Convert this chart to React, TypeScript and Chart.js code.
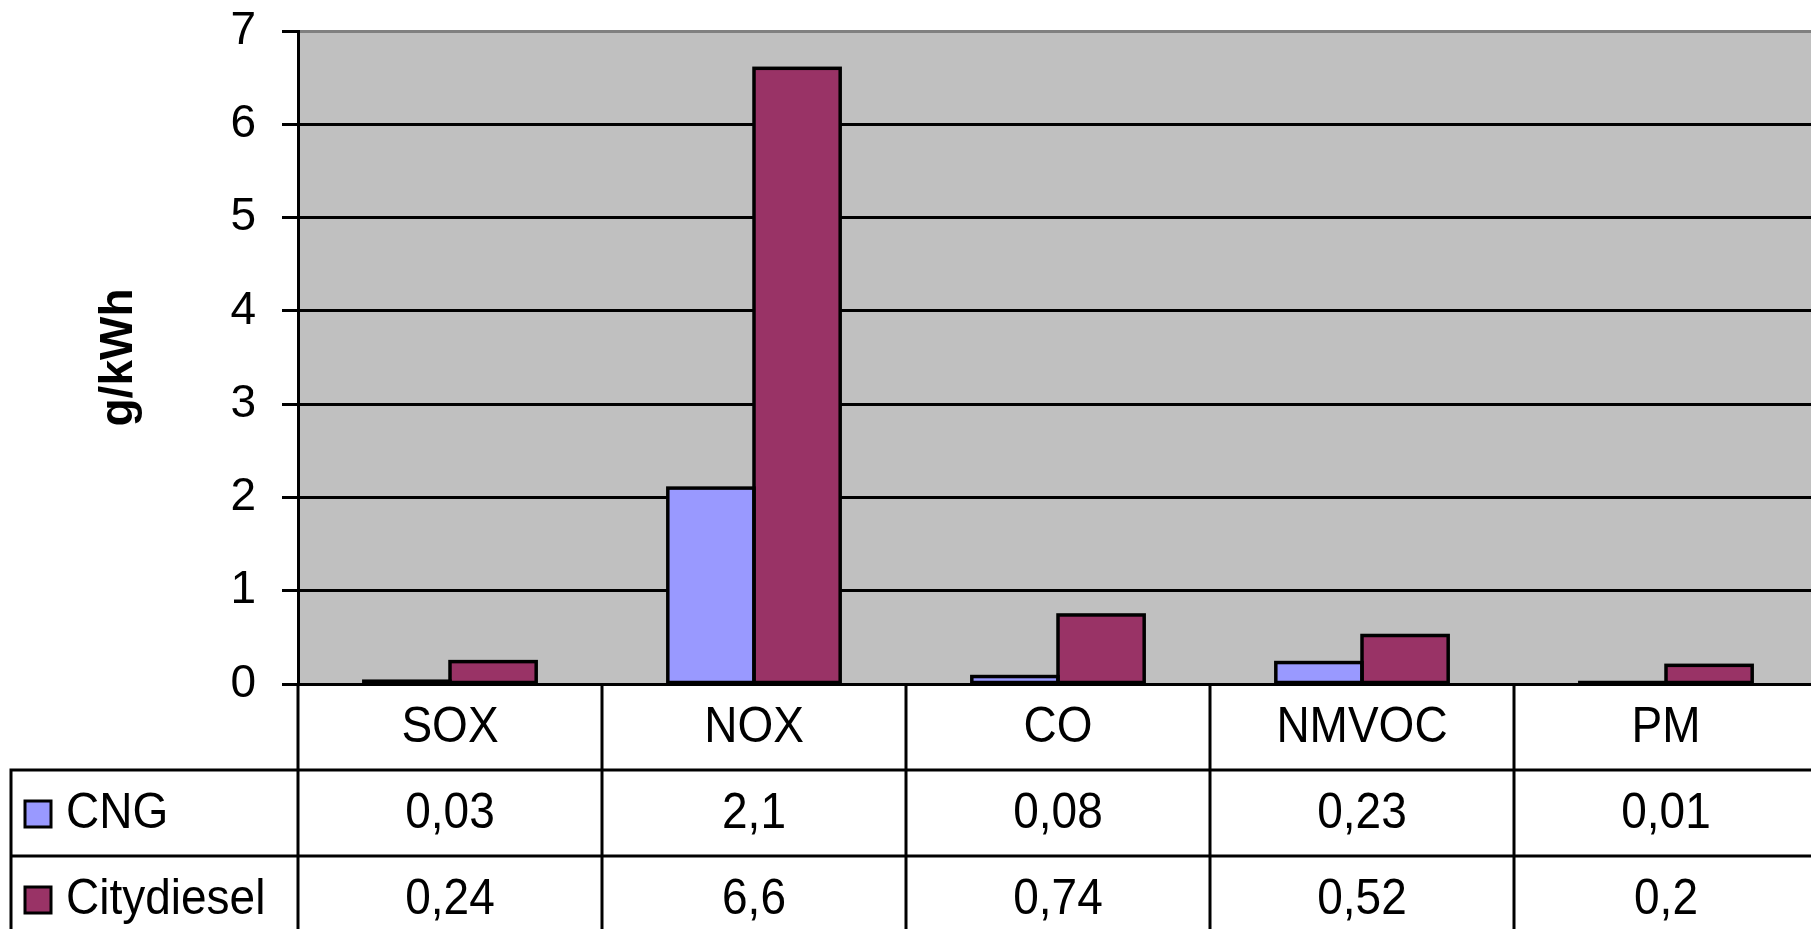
import React, { useEffect, useRef } from "react";
import { Chart, registerables } from "chart.js";

Chart.register(...registerables);

const categories = ["SOX", "NOX", "CO", "NMVOC", "PM"];
const cngValues = [0.03, 2.1, 0.08, 0.23, 0.01];
const dieselValues = [0.24, 6.6, 0.74, 0.52, 0.2];
const seriesNames = ["CNG", "Citydiesel"];
const seriesColors = ["#9999FF", "#993366"];
const yTicks = [0, 1, 2, 3, 4, 5, 6, 7];

const FONT = '"Liberation Sans", Arial, sans-serif';
const FONT_SIZE = 46;
const ROW_H = 86;
const PLOT_TOP = 31;
const PLOT_BOTTOM = 684;

function fmt(v: number) {
  return String(v).replace(".", ",");
}

function drawText(ctx: CanvasRenderingContext2D, text: string, x: number, y: number, align: CanvasTextAlign) {
  ctx.save();
  ctx.translate(x, y);
  ctx.scale(1, 1.1);
  ctx.textAlign = align;
  ctx.textBaseline = "middle";
  ctx.fillText(text, 0, 0);
  ctx.restore();
}

const tablePlugin = {
  id: "excelTable",
  beforeDraw(chart: any) {
    const { ctx, chartArea } = chart;
    ctx.save();
    ctx.fillStyle = "#ffffff";
    ctx.fillRect(0, 0, chart.width, chart.height);
    ctx.fillStyle = "#C0C0C0";
    ctx.fillRect(chartArea.left, chartArea.top, chartArea.right - chartArea.left, chartArea.bottom - chartArea.top);
    ctx.restore();
  },
  afterDatasetsDraw(chart: any) {
    // Excel-style outlines, centred on the bar edges
    const { ctx } = chart;
    ctx.save();
    ctx.strokeStyle = "#000";
    ctx.lineWidth = 3.5;
    chart.data.datasets.forEach((_: any, di: number) => {
      const meta = chart.getDatasetMeta(di);
      meta.data.forEach((el: any) => {
        const { x, y, base, width } = el.getProps(["x", "y", "base", "width"], true);
        ctx.strokeRect(x - width / 2, y, width, base - y);
      });
    });
    ctx.restore();
  },
  afterDraw(chart: any) {
    const { ctx, chartArea } = chart;
    const xs = chart.scales.x;
    const n = categories.length;
    const catW = (chartArea.right - chartArea.left) / n;
    const top = chartArea.bottom;
    const row1 = top + ROW_H;
    const row2 = row1 + ROW_H;
    const bottom = chart.height + 20;
    const leftEdge = 11;
    ctx.save();
    ctx.strokeStyle = "#000";
    ctx.lineWidth = 3;
    ctx.beginPath();
    ctx.moveTo(leftEdge, row1);
    ctx.lineTo(chart.width, row1);
    ctx.moveTo(leftEdge, row2);
    ctx.lineTo(chart.width, row2);
    ctx.moveTo(leftEdge, row1 - 1.5);
    ctx.lineTo(leftEdge, bottom);
    for (let i = 0; i <= n; i++) {
      const bx = xs.getPixelForValue(i) - catW / 2;
      ctx.moveTo(bx, top);
      ctx.lineTo(bx, bottom);
    }
    ctx.stroke();

    ctx.fillStyle = "#000";
    ctx.font = `${FONT_SIZE}px ${FONT}`;
    const rowsVals = [cngValues, dieselValues];
    for (let i = 0; i < n; i++) {
      const cx = xs.getPixelForValue(i);
      drawText(ctx, categories[i], cx, top + ROW_H / 2 + 1, "center");
      drawText(ctx, fmt(rowsVals[0][i]), cx, row1 + ROW_H / 2 + 1, "center");
      drawText(ctx, fmt(rowsVals[1][i]), cx, row2 + ROW_H / 2 + 1, "center");
    }
    const rowTops = [row1, row2];
    for (let r = 0; r < 2; r++) {
      const cy = rowTops[r] + ROW_H / 2 + 1;
      ctx.fillStyle = seriesColors[r];
      ctx.fillRect(25, cy - 13, 26, 26);
      ctx.strokeStyle = "#000";
      ctx.lineWidth = 3;
      ctx.strokeRect(25, cy - 13, 26, 26);
      ctx.fillStyle = "#000";
      drawText(ctx, seriesNames[r], 66, cy, "left");
    }
    ctx.restore();
  },
};

export default function App() {
  const ref = useRef<HTMLCanvasElement | null>(null);
  useEffect(() => {
    if (!ref.current) return;
    const chart = new Chart(ref.current, {
      type: "bar",
      data: {
        labels: categories,
        datasets: [
          {
            label: seriesNames[0],
            data: cngValues,
            backgroundColor: seriesColors[0],
            borderWidth: 0,
            categoryPercentage: 0.567,
            barPercentage: 1.0,
          },
          {
            label: seriesNames[1],
            data: dieselValues,
            backgroundColor: seriesColors[1],
            borderWidth: 0,
            categoryPercentage: 0.567,
            barPercentage: 1.0,
          },
        ],
      },
      options: {
        responsive: false,
        animation: false,
        devicePixelRatio: 1,
        layout: { padding: { left: 0, right: 0, top: PLOT_TOP, bottom: 929 - PLOT_BOTTOM } },
        plugins: { legend: { display: false }, tooltip: { enabled: false } },
        scales: {
          x: { display: false, offset: true },
          y: {
            min: 0,
            max: 7,
            afterFit(scale: any) {
              scale.width = 298;
              scale.paddingTop = 0;
              scale.paddingBottom = 0;
            },
            afterBuildTicks(scale: any) {
              scale.ticks = yTicks.map((v) => ({ value: v }));
            },
            ticks: {
              color: "#000",
              padding: 26,
              font: { family: FONT, size: FONT_SIZE },
            },
            grid: {
              color: (c: any) => (c.tick && c.tick.value === 7 ? "#808080" : "#000"),
              tickColor: "#000",
              lineWidth: 3,
              tickLength: 16,
              drawTicks: true,
            },
            border: { display: true, color: "#000", width: 3 },
            title: {
              display: true,
              text: "g/kWh",
              color: "#000",
              font: { family: FONT, size: FONT_SIZE, weight: "bold" },
              padding: { top: 92, bottom: 0 },
            },
          },
        },
      } as any,
      plugins: [tablePlugin],
    });
    return () => chart.destroy();
  }, []);
  return (
    <div
      style={{
        position: "fixed",
        left: 0,
        top: 0,
        width: 1811,
        height: 929,
        overflow: "hidden",
        background: "#fff",
      }}
    >
      <canvas ref={ref} width={1818} height={929} style={{ display: "block" }} />
    </div>
  );
}
